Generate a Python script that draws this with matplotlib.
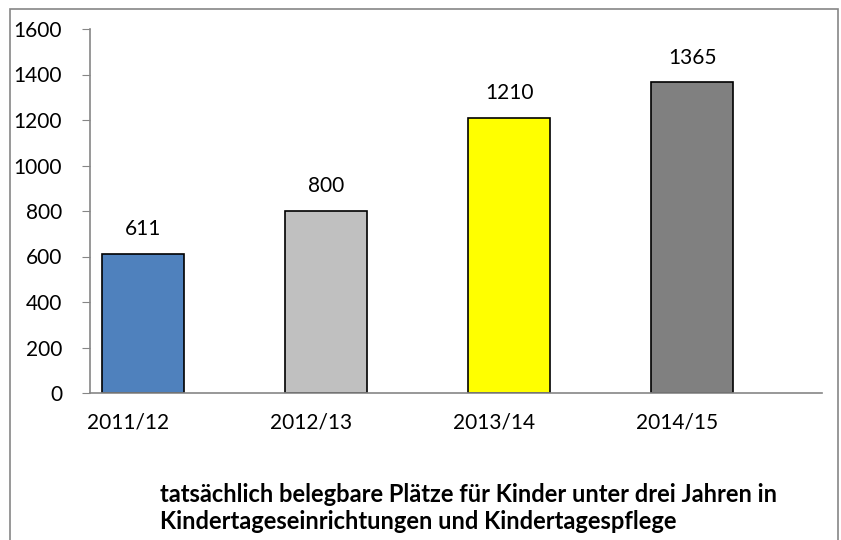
import matplotlib
matplotlib.use("Agg")
from matplotlib import pyplot as plt
from matplotlib.patches import Rectangle

plt.rcParams['font.family'] = ['Lato', 'DejaVu Sans']

years = ["2011/12", "2012/13", "2013/14", "2014/15"]
places = [611, 800, 1210, 1365]
bar_colors = ["#4f81bd", "#c0c0c0", "#ffff00", "#808080"]

fig = plt.figure(figsize=(8.41, 5.40), dpi=100)
ax = fig.add_axes([90/841, 147/540, 732/841, 364/540])

x = list(range(len(years)))
ax.bar(x, places, width=0.45, color=bar_colors, edgecolor="black", linewidth=1.2)
for xi, v in zip(x, places):
    ax.text(xi, v + 65, str(v), ha="center", va="bottom", fontsize=15)

ax.set_xlim(-0.29, len(years) - 0.29)
ax.set_ylim(0, 1600)
ax.set_yticks(range(0, 1601, 200))
ax.set_xticks([xi - 0.08 for xi in x])
ax.set_xticklabels(years, fontsize=15)
ax.tick_params(axis="y", labelsize=15, length=6, color="#868686", pad=14)
ax.tick_params(axis="x", length=0, pad=14)
for s in ["top", "right"]:
    ax.spines[s].set_visible(False)
for s in ["left", "bottom"]:
    ax.spines[s].set_color("#868686")
    ax.spines[s].set_linewidth(1.2)

fig.text(160/841, 1 - 508/540, "tatsächlich belegbare Plätze für Kinder unter drei Jahren in\nKindertageseinrichtungen und Kindertagespflege",
         ha="left", va="center", fontsize=17, fontweight="bold", linespacing=1.2)

fig.patches.append(Rectangle((10/841, -0.1), 828/841, 1.1 - 9/540, transform=fig.transFigure,
                             fill=False, edgecolor="#868686", linewidth=1.2))

fig.savefig("out.png", dpi=100)
